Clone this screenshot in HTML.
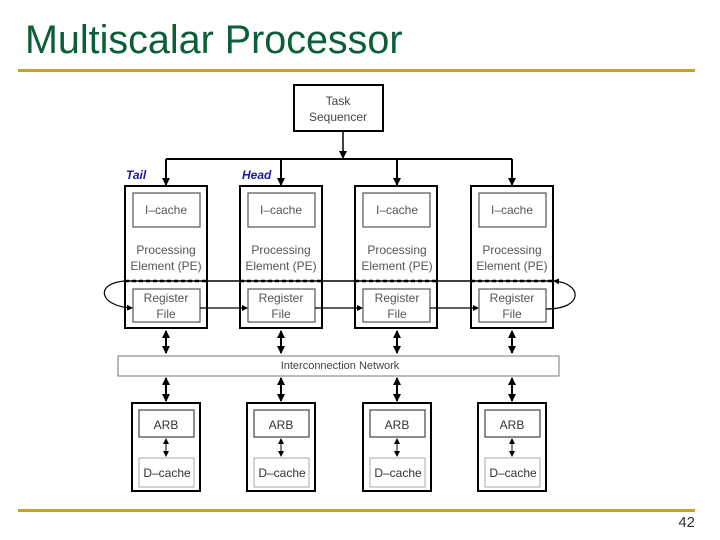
<!DOCTYPE html>
<html><head><meta charset="utf-8"><style>
html,body{margin:0;padding:0;background:#fff;}
svg{display:block;}
</style></head><body>
<svg width="720" height="540" viewBox="0 0 720 540" xmlns="http://www.w3.org/2000/svg" font-family="Liberation Sans, sans-serif">
<defs>
<marker id="a" markerWidth="8" markerHeight="8" refX="7" refY="4" orient="auto-start-reverse" markerUnits="userSpaceOnUse"><path d="M0,0 L8,4 L0,8 z" fill="#000"/></marker>
<marker id="s" markerWidth="6" markerHeight="6" refX="5" refY="3" orient="auto-start-reverse" markerUnits="userSpaceOnUse"><path d="M0,0 L6,3 L0,6 z" fill="#000"/></marker>
</defs>
<text x="25" y="53" font-size="39.5" fill="#0b5e35">Multiscalar Processor</text>
<rect x="18" y="69" width="677" height="3" fill="#c8a030"/>
<rect x="18" y="509" width="677" height="3" fill="#c8a030"/>
<text x="695" y="527" font-size="15" text-anchor="end" fill="#333">42</text>

<rect x="294" y="85" width="89" height="46" fill="#fff" stroke="#000" stroke-width="2"/>
<text x="338" y="105" font-size="12" text-anchor="middle" fill="#444">Task</text>
<text x="338" y="121" font-size="12" text-anchor="middle" fill="#444">Sequencer</text>
<line x1="343" y1="131" x2="343" y2="158" stroke="#000" stroke-width="1.5" marker-end="url(#a)"/>
<line x1="166" y1="159" x2="512" y2="159" stroke="#000" stroke-width="2"/>
<text x="126" y="179" font-size="12" font-weight="bold" font-style="italic" fill="#1a1aa0">Tail</text>
<text x="242" y="179" font-size="12" font-weight="bold" font-style="italic" fill="#1a1aa0">Head</text>

<g stroke="#000" fill="none">
<line x1="166" y1="159" x2="166" y2="185" stroke-width="2" marker-end="url(#a)"/>
<line x1="281" y1="159" x2="281" y2="185" stroke-width="2" marker-end="url(#a)"/>
<line x1="397" y1="159" x2="397" y2="185" stroke-width="2" marker-end="url(#a)"/>
<line x1="512" y1="159" x2="512" y2="185" stroke-width="2" marker-end="url(#a)"/>
</g>

<g fill="#fff" stroke="#000">
<rect x="125" y="186" width="82" height="142" stroke-width="2"/>
<rect x="240" y="186" width="82" height="142" stroke-width="2"/>
<rect x="355" y="186" width="82" height="142" stroke-width="2"/>
<rect x="471" y="186" width="82" height="142" stroke-width="2"/>
<rect x="133" y="193" width="67" height="34" stroke="#555" stroke-width="1.2"/>
<rect x="248" y="193" width="67" height="34" stroke="#555" stroke-width="1.2"/>
<rect x="363" y="193" width="67" height="34" stroke="#555" stroke-width="1.2"/>
<rect x="479" y="193" width="67" height="34" stroke="#555" stroke-width="1.2"/>
<rect x="133" y="289" width="67" height="33" stroke="#555" stroke-width="1.2"/>
<rect x="248" y="289" width="67" height="33" stroke="#555" stroke-width="1.2"/>
<rect x="363" y="289" width="67" height="33" stroke="#555" stroke-width="1.2"/>
<rect x="479" y="289" width="67" height="33" stroke="#555" stroke-width="1.2"/>
</g>
<g font-size="12" fill="#555" text-anchor="middle">
<text x="166" y="214">I–cache</text><text x="281" y="214">I–cache</text><text x="397" y="214">I–cache</text><text x="512" y="214">I–cache</text>
<text x="166" y="254">Processing</text><text x="281" y="254">Processing</text><text x="397" y="254">Processing</text><text x="512" y="254">Processing</text>
<text x="166" y="270">Element (PE)</text><text x="281" y="270">Element (PE)</text><text x="397" y="270">Element (PE)</text><text x="512" y="270">Element (PE)</text>
<text x="166" y="302">Register</text><text x="281" y="302">Register</text><text x="397" y="302">Register</text><text x="512" y="302">Register</text>
<text x="166" y="318">File</text><text x="281" y="318">File</text><text x="397" y="318">File</text><text x="512" y="318">File</text>
</g>
<g stroke="#000" fill="none" stroke-width="1.5">
<line x1="125" y1="281" x2="553" y2="281"/>
</g>
<g stroke="#000" stroke-width="2.5" stroke-dasharray="4,3">
<line x1="125" y1="281" x2="207" y2="281"/>
<line x1="240" y1="281" x2="322" y2="281"/>
<line x1="355" y1="281" x2="437" y2="281"/>
<line x1="471" y1="281" x2="553" y2="281"/>
</g>
<g stroke="#000" fill="none" stroke-width="1.2">
<line x1="200" y1="308" x2="247" y2="308" marker-end="url(#s)"/>
<line x1="315" y1="308" x2="362" y2="308" marker-end="url(#s)"/>
<line x1="430" y1="308" x2="478" y2="308" marker-end="url(#s)"/>
<path d="M125,281 C95,283 98,306 132,308" marker-end="url(#s)"/>
<path d="M546,309 C585,309 582,283 554,281" marker-end="url(#s)"/>
</g>

<rect x="118" y="356" width="441" height="20" fill="#fff" stroke="#777" stroke-width="1"/>
<text x="340" y="369" font-size="11" text-anchor="middle" fill="#444">Interconnection Network</text>

<g stroke="#000" stroke-width="2">
<line x1="166" y1="331" x2="166" y2="353" marker-start="url(#a)" marker-end="url(#a)"/>
<line x1="281" y1="331" x2="281" y2="353" marker-start="url(#a)" marker-end="url(#a)"/>
<line x1="397" y1="331" x2="397" y2="353" marker-start="url(#a)" marker-end="url(#a)"/>
<line x1="512" y1="331" x2="512" y2="353" marker-start="url(#a)" marker-end="url(#a)"/>
<line x1="166" y1="378" x2="166" y2="401" marker-start="url(#a)" marker-end="url(#a)"/>
<line x1="281" y1="378" x2="281" y2="401" marker-start="url(#a)" marker-end="url(#a)"/>
<line x1="397" y1="378" x2="397" y2="401" marker-start="url(#a)" marker-end="url(#a)"/>
<line x1="512" y1="378" x2="512" y2="401" marker-start="url(#a)" marker-end="url(#a)"/>
</g>

<g fill="#fff" stroke="#000">
<rect x="132" y="403" width="68" height="88" stroke-width="2"/>
<rect x="247" y="403" width="68" height="88" stroke-width="2"/>
<rect x="363" y="403" width="68" height="88" stroke-width="2"/>
<rect x="478" y="403" width="68" height="88" stroke-width="2"/>
<rect x="139" y="410" width="55" height="27" stroke="#444" stroke-width="1.2"/>
<rect x="254" y="410" width="55" height="27" stroke="#444" stroke-width="1.2"/>
<rect x="370" y="410" width="55" height="27" stroke="#444" stroke-width="1.2"/>
<rect x="485" y="410" width="55" height="27" stroke="#444" stroke-width="1.2"/>
<rect x="139" y="458" width="55" height="29" stroke="#aaa" stroke-width="1"/>
<rect x="254" y="458" width="55" height="29" stroke="#aaa" stroke-width="1"/>
<rect x="370" y="458" width="55" height="29" stroke="#aaa" stroke-width="1"/>
<rect x="485" y="458" width="55" height="29" stroke="#aaa" stroke-width="1"/>
</g>
<g stroke="#000" stroke-width="1">
<line x1="166" y1="439" x2="166" y2="456" marker-start="url(#s)" marker-end="url(#s)"/>
<line x1="281" y1="439" x2="281" y2="456" marker-start="url(#s)" marker-end="url(#s)"/>
<line x1="397" y1="439" x2="397" y2="456" marker-start="url(#s)" marker-end="url(#s)"/>
<line x1="512" y1="439" x2="512" y2="456" marker-start="url(#s)" marker-end="url(#s)"/>
</g>
<g font-size="12" fill="#333" text-anchor="middle">
<text x="166" y="429">ARB</text><text x="281" y="429">ARB</text><text x="397" y="429">ARB</text><text x="512" y="429">ARB</text>
<text x="167" y="477">D–cache</text><text x="282" y="477">D–cache</text><text x="398" y="477">D–cache</text><text x="513" y="477">D–cache</text>
</g>
</svg>
</body></html>
